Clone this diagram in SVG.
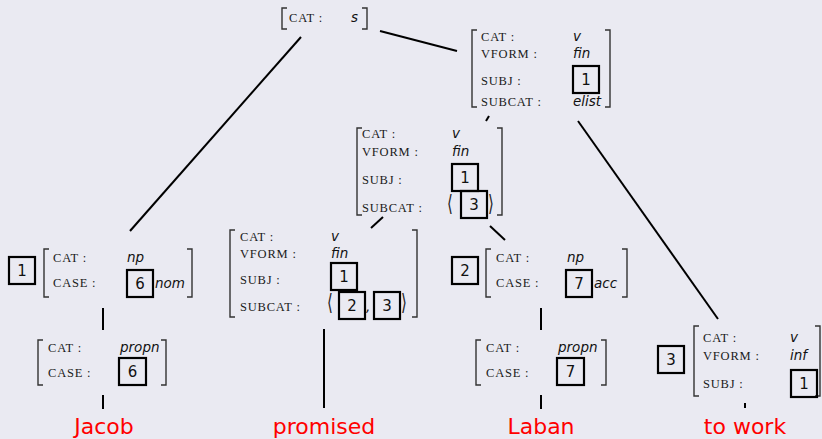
<svg xmlns="http://www.w3.org/2000/svg" width="822" height="439" viewBox="0 0 822 439">
  <style>
    .bg { fill: #eaeaf2; }
    .br { fill: none; stroke: #333; stroke-width: 1.4; }
    .key { font-family: "Liberation Serif", "DejaVu Serif", serif; font-size: 12.5px; letter-spacing: 0.8px; fill: #1a1a1a; }
    .val { font-family: "DejaVu Sans", "Liberation Sans", sans-serif; font-style: italic; font-size: 13.5px; fill: #111; }
    .box { fill: none; stroke: #000; stroke-width: 2.2; }
    .tag { font-family: "DejaVu Sans", "Liberation Sans", sans-serif; font-size: 15px; fill: #111; text-anchor: middle; }
    .ang { font-family: "DejaVu Sans", "Liberation Sans", sans-serif; font-size: 15px; fill: #222; }
    .word { font-family: "DejaVu Sans", "Liberation Sans", sans-serif; font-size: 22px; fill: #ff0000; text-anchor: middle; }
    .edge { stroke: #000; stroke-width: 2; fill: none; }
  </style>
  <rect class="bg" x="0" y="0" width="822" height="439"/>

  <g id="connectors">
    <line class="edge" x1="301" y1="37" x2="130" y2="231"/>
    <line class="edge" x1="380" y1="31" x2="457" y2="51"/>
    <line class="edge" x1="489" y1="116" x2="486" y2="121"/>
    <line class="edge" x1="578" y1="121" x2="718" y2="319"/>
    <line class="edge" x1="383" y1="217" x2="371" y2="228"/>
    <line class="edge" x1="490" y1="226" x2="505" y2="240"/>
    <line class="edge" x1="103" y1="308" x2="103" y2="330"/>
    <line class="edge" x1="103" y1="395" x2="103" y2="409"/>
    <line class="edge" x1="324" y1="329" x2="324" y2="408"/>
    <line class="edge" x1="541" y1="308" x2="541" y2="330"/>
    <line class="edge" x1="541" y1="395" x2="541" y2="409"/>
    <line class="edge" x1="745" y1="403" x2="745" y2="408"/>
  </g>

  <!-- S -->
  <g id="node-s">
    <path class="br" d="M287 8 H282 V29 H287"/>
    <path class="br" d="M362 8 H367 V29 H362"/>
    <text class="key" x="289" y="22">CAT :</text>
    <text class="val" x="351" y="22">s</text>
  </g>

  <!-- finite VP -->
  <g id="node-vp">
    <path class="br" d="M477 30 H472 V107 H477"/>
    <path class="br" d="M605 30 H610 V107 H605"/>
    <text class="key" x="481" y="41">CAT :</text>
    <text class="key" x="481" y="58">VFORM :</text>
    <text class="key" x="481" y="85">SUBJ :</text>
    <text class="key" x="481" y="106">SUBCAT :</text>
    <text class="val" x="573" y="41">v</text>
    <text class="val" x="573" y="58">fin</text>
    <rect class="box" x="573" y="66" width="26" height="27"/>
    <text class="tag" x="586" y="85">1</text>
    <text class="val" x="573" y="106">elist</text>
  </g>

  <!-- V-bar -->
  <g id="node-vbar">
    <path class="br" d="M362 128 H357 V215 H362"/>
    <path class="br" d="M497 128 H502 V215 H497"/>
    <text class="key" x="362" y="138">CAT :</text>
    <text class="key" x="362" y="156">VFORM :</text>
    <text class="key" x="362" y="184">SUBJ :</text>
    <text class="key" x="362" y="212">SUBCAT :</text>
    <text class="val" x="452" y="138">v</text>
    <text class="val" x="452" y="156">fin</text>
    <rect class="box" x="452" y="164" width="26" height="27"/>
    <text class="tag" x="465" y="183">1</text>
    <text class="ang" transform="translate(447 211) scale(1 1.5)">⟨</text>
    <rect class="box" x="461" y="191" width="26" height="27"/>
    <text class="tag" x="474" y="210">3</text>
    <text class="ang" transform="translate(488 211) scale(1 1.5)">⟩</text>
  </g>

  <!-- subject NP -->
  <g id="node-np1">
    <rect class="box" x="9" y="257" width="26" height="27"/>
    <text class="tag" x="22" y="276">1</text>
    <path class="br" d="M49 249 H44 V297 H49"/>
    <path class="br" d="M187 249 H192 V297 H187"/>
    <text class="key" x="53" y="262">CAT :</text>
    <text class="key" x="53" y="287">CASE :</text>
    <text class="val" x="127" y="262">np</text>
    <rect class="box" x="127" y="270" width="26" height="27"/>
    <text class="tag" x="140" y="289">6</text>
    <text class="val" x="155" y="288">nom</text>
  </g>

  <!-- verb -->
  <g id="node-v">
    <path class="br" d="M235 230 H230 V317 H235"/>
    <path class="br" d="M412 230 H417 V317 H412"/>
    <text class="key" x="240" y="241">CAT :</text>
    <text class="key" x="240" y="258">VFORM :</text>
    <text class="key" x="240" y="284">SUBJ :</text>
    <text class="key" x="240" y="311">SUBCAT :</text>
    <text class="val" x="331" y="241">v</text>
    <text class="val" x="331" y="258">fin</text>
    <rect class="box" x="331" y="263" width="26" height="27"/>
    <text class="tag" x="344" y="282">1</text>
    <text class="ang" transform="translate(327 310) scale(1 1.5)">⟨</text>
    <rect class="box" x="339" y="292" width="26" height="27"/>
    <text class="tag" x="352" y="311">2</text>
    <text class="val" x="366" y="311">,</text>
    <rect class="box" x="374" y="292" width="26" height="27"/>
    <text class="tag" x="387" y="311">3</text>
    <text class="ang" transform="translate(401 310) scale(1 1.5)">⟩</text>
  </g>

  <!-- object NP -->
  <g id="node-np2">
    <rect class="box" x="452" y="257" width="26" height="27"/>
    <text class="tag" x="465" y="276">2</text>
    <path class="br" d="M491 249 H486 V297 H491"/>
    <path class="br" d="M622 249 H627 V297 H622"/>
    <text class="key" x="496" y="262">CAT :</text>
    <text class="key" x="496" y="287">CASE :</text>
    <text class="val" x="567" y="262">np</text>
    <rect class="box" x="566" y="270" width="26" height="27"/>
    <text class="tag" x="579" y="289">7</text>
    <text class="val" x="594" y="288">acc</text>
  </g>

  <!-- infinitive VP -->
  <g id="node-vinf">
    <rect class="box" x="658" y="346" width="26" height="27"/>
    <text class="tag" x="671" y="365">3</text>
    <path class="br" d="M699 326 H694 V396 H699"/>
    <path class="br" d="M815 326 H820 V396 H815"/>
    <text class="key" x="703" y="342">CAT :</text>
    <text class="key" x="703" y="360">VFORM :</text>
    <text class="key" x="703" y="388">SUBJ :</text>
    <text class="val" x="790" y="342">v</text>
    <text class="val" x="790" y="360">inf</text>
    <rect class="box" x="791" y="370" width="26" height="27"/>
    <text class="tag" x="804" y="389">1</text>
  </g>

  <!-- proper noun: Jacob -->
  <g id="node-propn1">
    <path class="br" d="M43 340 H38 V385 H43"/>
    <path class="br" d="M161 340 H166 V385 H161"/>
    <text class="key" x="48" y="352">CAT :</text>
    <text class="key" x="48" y="377">CASE :</text>
    <text class="val" x="120" y="352">propn</text>
    <rect class="box" x="119" y="358" width="27" height="27"/>
    <text class="tag" x="132.5" y="377">6</text>
  </g>

  <!-- proper noun: Laban -->
  <g id="node-propn2">
    <path class="br" d="M481 340 H476 V385 H481"/>
    <path class="br" d="M601 340 H606 V385 H601"/>
    <text class="key" x="486" y="352">CAT :</text>
    <text class="key" x="486" y="377">CASE :</text>
    <text class="val" x="558" y="352">propn</text>
    <rect class="box" x="557" y="358" width="27" height="27"/>
    <text class="tag" x="570.5" y="377">7</text>
  </g>

  <g id="words">
    <text class="word" x="104" y="434">Jacob</text>
    <text class="word" x="324" y="434">promised</text>
    <text class="word" x="541" y="434">Laban</text>
    <text class="word" x="745" y="434">to work</text>
  </g>
</svg>
